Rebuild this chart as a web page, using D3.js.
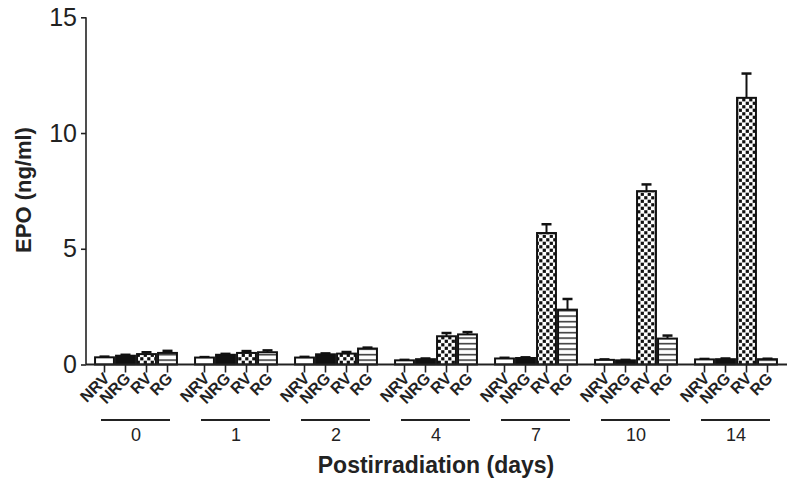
<!DOCTYPE html>
<html>
<head>
<meta charset="utf-8">
<script src="https://cdn.jsdelivr.net/npm/d3@7"></script>
<style>
  body { margin: 0; background: #fff; }
  svg { display: block; font-family: Arial, "Liberation Sans", sans-serif; }
</style>
</head>
<body>
<div id="chart"></div>
<script>
// days postirradiation and the four animal groups
const days = ["0", "1", "2", "4", "7", "10", "14"];
const groups = ["NRV", "NRG", "RV", "RG"];

// EPO (ng/ml), one array per group, in the order of days
const nrv = [0.31, 0.30, 0.30, 0.18, 0.26, 0.20, 0.22];
const nrg = [0.38, 0.42, 0.44, 0.23, 0.28, 0.18, 0.23];
const rv  = [0.45, 0.50, 0.47, 1.22, 5.68, 7.49, 11.52];
const rg  = [0.50, 0.53, 0.69, 1.30, 2.37, 1.12, 0.23];

// SEM, same layout
const nrvErr = [0.03, 0.02, 0.03, 0.02, 0.03, 0.02, 0.02];
const nrgErr = [0.04, 0.04, 0.04, 0.03, 0.03, 0.02, 0.03];
const rvErr  = [0.08, 0.08, 0.07, 0.14, 0.38, 0.29, 1.05];
const rgErr  = [0.09, 0.08, 0.04, 0.10, 0.46, 0.13, 0.02];

const yTicks = [0, 5, 10, 15];

const values = { NRV: nrv, NRG: nrg, RV: rv, RG: rg };
const errors = { NRV: nrvErr, NRG: nrgErr, RV: rvErr, RG: rgErr };

let rows = [];
days.forEach((day, i) => {
    groups.forEach(g => {
        rows.push({ day: day, group: g, value: values[g][i], err: errors[g][i] });
    });
});

const width = 800, height = 487;
const svg = d3.select("#chart").append("svg")
    .attr("width", width).attr("height", height);

// fill patterns
let defs = svg.append("defs");
let checker = defs.append("pattern").attr("id", "checker")
    .attr("patternUnits", "userSpaceOnUse").attr("width", 7).attr("height", 7);
checker.append("rect").attr("width", 7).attr("height", 7).attr("fill", "#fff");
checker.append("rect").attr("x", 0.2).attr("y", 0.2).attr("width", 3.2).attr("height", 3.2).attr("fill", "#111");
checker.append("rect").attr("x", 3.7).attr("y", 3.7).attr("width", 3.2).attr("height", 3.2).attr("fill", "#111");

let stripes = defs.append("pattern").attr("id", "stripes")
    .attr("patternUnits", "userSpaceOnUse").attr("width", 6).attr("height", 5.5);
stripes.append("rect").attr("width", 6).attr("height", 5.5).attr("fill", "#fff");
stripes.append("rect").attr("y", 2).attr("width", 6).attr("height", 1.3).attr("fill", "#111");

const fills = { NRV: "#fff", NRG: "#111", RV: "url(#checker)", RG: "url(#stripes)" };

const x0 = d3.scaleBand().domain(days).range([86, 786]);
const x1 = d3.scaleBand().domain(groups).range([-42, 42]).paddingInner(0.1).paddingOuter(0.05);
const y = d3.scaleLinear().domain([0, 15]).range([364.5, 17.3]);

const xc = d => x0(d.day) + x0.bandwidth() / 2 + x1(d.group) + x1.bandwidth() / 2;

// error bars (upper only)
let err = svg.append("g").attr("id", "errors");
err.selectAll("line.stem").data(rows).enter().append("line")
    .attr("x1", xc).attr("x2", xc)
    .attr("y1", d => y(d.value)).attr("y2", d => y(d.value + d.err))
    .attr("stroke", "#111").attr("stroke-width", 2);
err.selectAll("line.cap").data(rows).enter().append("line")
    .attr("x1", d => xc(d) - 5).attr("x2", d => xc(d) + 5)
    .attr("y1", d => y(d.value + d.err)).attr("y2", d => y(d.value + d.err))
    .attr("stroke", "#111").attr("stroke-width", 2.5);

// bars
svg.append("g").attr("id", "bars").selectAll("rect").data(rows).enter().append("rect")
    .attr("x", d => xc(d) - x1.bandwidth() / 2)
    .attr("y", d => y(d.value))
    .attr("width", x1.bandwidth())
    .attr("height", d => y(0) - y(d.value))
    .attr("fill", d => fills[d.group])
    .attr("stroke", "#111").attr("stroke-width", 2);

// y axis
let yAxis = svg.append("g").attr("transform", "translate(86,0)")
    .call(d3.axisLeft(y).tickValues(yTicks).tickSize(5).tickPadding(4));
yAxis.select(".domain").attr("stroke", "#222").attr("stroke-width", 1.6).attr("d", "M0," + y(15) + "V" + y(0));
yAxis.selectAll(".tick line").attr("stroke", "#222").attr("stroke-width", 1.6);
yAxis.selectAll("text").attr("font-size", 25).attr("fill", "#222")
    .attr("font-family", "Arial, 'Liberation Sans', sans-serif");

// x axis baseline
svg.append("line").attr("x1", 86).attr("x2", 787).attr("y1", y(0)).attr("y2", y(0))
    .attr("stroke", "#222").attr("stroke-width", 1.8);

// ticks under each bar
svg.append("g").selectAll("line").data(rows).enter().append("line")
    .attr("x1", xc).attr("x2", xc).attr("y1", y(0)).attr("y2", y(0) + 8)
    .attr("stroke", "#222").attr("stroke-width", 1.6);

// rotated group labels
svg.append("g").selectAll("text").data(rows).enter().append("text")
    .attr("transform", d => "translate(" + (xc(d) + 6) + "," + (y(0) + 15) + ") rotate(-45)")
    .attr("text-anchor", "end")
    .attr("font-size", 16).attr("font-weight", "bold").attr("fill", "#222")
    .text(d => d.group);

// day underlines and labels
let dayG = svg.append("g").selectAll("g").data(days).enter().append("g")
    .attr("transform", d => "translate(" + (x0(d) + x0.bandwidth() / 2) + ",0)");
dayG.append("line").attr("x1", -35).attr("x2", 34).attr("y1", 420).attr("y2", 420)
    .attr("stroke", "#222").attr("stroke-width", 1.8);
dayG.append("text").attr("y", 441).attr("text-anchor", "middle")
    .attr("font-size", 18).attr("fill", "#222").text(d => d);

// axis titles
svg.append("text").attr("x", 436).attr("y", 473).attr("text-anchor", "middle")
    .attr("font-size", 23).attr("font-weight", "bold").attr("fill", "#222")
    .text("Postirradiation (days)");
svg.append("text").attr("transform", "translate(31,190) rotate(-90)")
    .attr("text-anchor", "middle")
    .attr("font-size", 22).attr("font-weight", "bold").attr("fill", "#222")
    .text("EPO (ng/ml)");
</script>
</body>
</html>
